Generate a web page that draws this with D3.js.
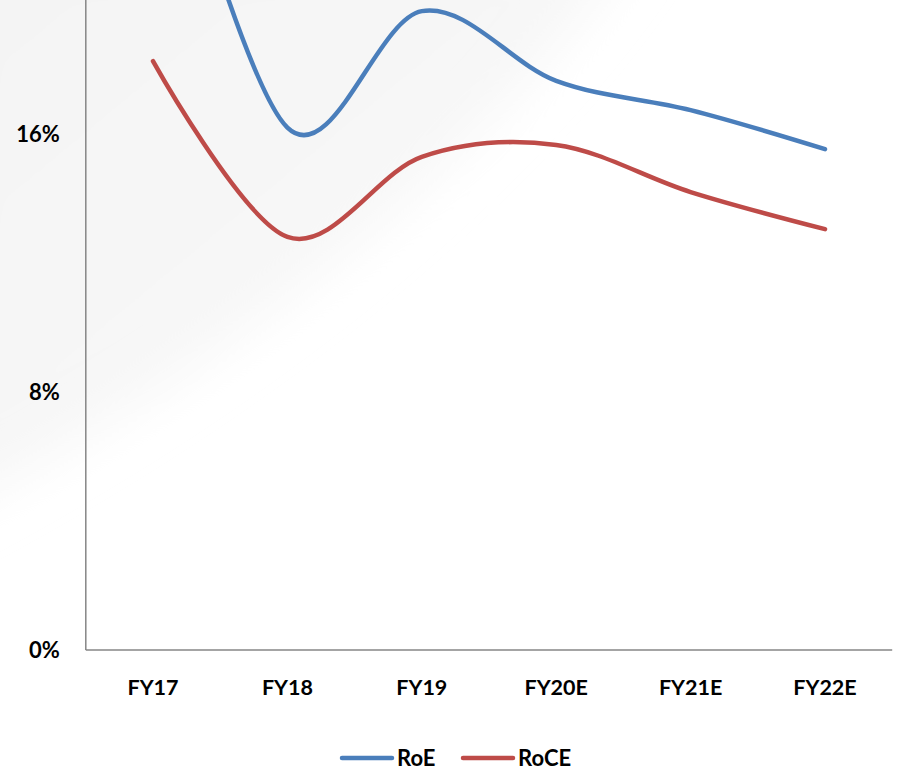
<!DOCTYPE html>
<html>
<head>
<meta charset="utf-8">
<script src="https://cdn.jsdelivr.net/npm/d3@7"></script>
<style>
  html, body { margin: 0; padding: 0; background: #ffffff; }
  svg { display: block; }
  text { font-family: Lato, "Open Sans", sans-serif; font-weight: 700; fill: #000; }
</style>
</head>
<body>
<svg id="chart" width="901" height="773"></svg>
<script>
// Return ratios by fiscal year (percent)
const categories = ["FY17", "FY18", "FY19", "FY20E", "FY21E", "FY22E"];
const roe  = [27.8, 16.2, 19.81, 17.65, 16.74, 15.53];
const roce = [18.26, 12.81, 15.29, 15.66, 14.2, 13.05];
const yTicks = [0, 8, 16];
const seriesNames = ["RoE", "RoCE"];
const seriesColors = ["#4a7ebb", "#be4b48"];

const svg = d3.select("#chart");

// faint, soft backdrop in the upper left
const defs = svg.append("defs");
const grad = defs.append("linearGradient").attr("id", "bgfade")
  .attr("x1", "0").attr("y1", "0").attr("x2", "1").attr("y2", "1");
grad.append("stop").attr("offset", "0").attr("stop-color", "#f3f3f3");
grad.append("stop").attr("offset", "0.6").attr("stop-color", "#f8f8f8");
grad.append("stop").attr("offset", "1").attr("stop-color", "#ffffff");
defs.append("filter").attr("id", "soft")
  .attr("x", "-20%").attr("y", "-20%").attr("width", "140%").attr("height", "140%")
  .append("feGaussianBlur").attr("stdDeviation", 25);
svg.append("path")
  .attr("d", "M-60,-60 L640,-60 C520,120 300,330 -60,520 Z")
  .attr("fill", "url(#bgfade)")
  .attr("filter", "url(#soft)");

const plot = { left: 85.8, right: 892.2, top: -124, bottom: 650 };

const x = d3.scaleBand().domain(categories).range([plot.left, plot.right]);
const y = d3.scaleLinear().domain([0, 24]).range([plot.bottom, plot.top]);
const cx = c => x(c) + x.bandwidth() / 2;

// axes
const axisColor = "#868686";
svg.append("line")
  .attr("x1", plot.left).attr("x2", plot.left)
  .attr("y1", y(24)).attr("y2", y(0))
  .attr("stroke", axisColor).attr("stroke-width", 1.5);
svg.append("line")
  .attr("x1", plot.left).attr("x2", plot.right)
  .attr("y1", y(0)).attr("y2", y(0))
  .attr("stroke", axisColor).attr("stroke-width", 1.5);

const yAxis = d3.axisLeft(y).tickValues(yTicks).tickFormat(d => d + "%").tickSize(0).tickPadding(26);
const gy = svg.append("g").attr("transform", `translate(${plot.left},0)`).call(yAxis);
gy.select(".domain").remove();
gy.selectAll("text").attr("font-size", 22).style("font-family", "Lato, sans-serif").style("font-weight", 700);

const xAxis = d3.axisBottom(x).tickSize(0).tickPadding(30);
const gx = svg.append("g").attr("transform", `translate(0,${plot.bottom})`).call(xAxis);
gx.select(".domain").remove();
gx.selectAll("text").attr("font-size", 21.5).style("font-family", "Lato, sans-serif").style("font-weight", 700);

// smoothed series lines
const line = d3.line()
  .x((d, i) => cx(categories[i]))
  .y(d => y(d))
  .curve(d3.curveCardinal.tension(0));

[roe, roce].forEach((vals, k) => {
  svg.append("path")
    .datum(vals)
    .attr("d", line)
    .attr("fill", "none")
    .attr("stroke", seriesColors[k])
    .attr("stroke-width", 4.5)
    .attr("stroke-linecap", "round")
    .attr("stroke-linejoin", "round");
});

// legend
const legend = svg.append("g").attr("transform", "translate(340,758)");
const legendX = [0, 121];
seriesNames.forEach((name, k) => {
  const g = legend.append("g").attr("transform", `translate(${legendX[k]},0)`);
  g.append("line").attr("x1", 2).attr("x2", 52).attr("y1", 0).attr("y2", 0)
    .attr("stroke", seriesColors[k]).attr("stroke-width", 4.5).attr("stroke-linecap", "round");
  g.append("text").attr("x", 57).attr("y", 8).attr("font-size", 22).text(name);
});
</script>
</body>
</html>
